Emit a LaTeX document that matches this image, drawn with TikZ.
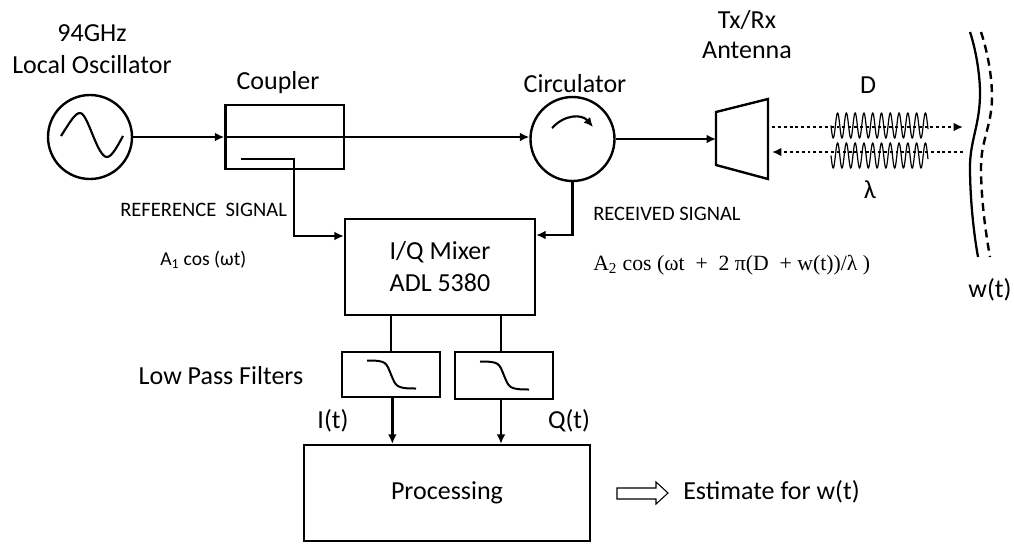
\documentclass[tikz,border=0pt]{standalone}
\usepackage{fontspec}
\setmainfont{Carlito}
\newfontfamily\formulafont{Liberation Serif}
\usepackage{tikz}
\usetikzlibrary{positioning}
\usetikzlibrary{arrows.meta}
\begin{document}
\begin{tikzpicture}[x=.75pt, y=-.75pt, >={Latex[length=7pt,width=6.5pt]},
    every node/.style = {inner sep=0pt, font=\fontsize{19.5}{20}\selectfont},
    blockbox/.style = {draw, rectangle, line width=1.8pt},
    roundbox/.style = {draw, circle, line width=1.8pt, minimum size=63pt},
    link/.style = {line width=1.8pt},
    small/.style = {font=\fontsize{15.4}{16}\selectfont, anchor=west},
    formula/.style = {font=\fontsize{16.3}{16}\formulafont\selectfont, anchor=west},
    radio/.style = {dash pattern=on 2.2pt off 2.2pt, line width=1.6pt},
    wave/.style = {line width=.9pt}
    ]
    \useasboundingbox (0,0) rectangle (1014,544);
    % blocks
    \node[roundbox] (osc) at (90,137) {};
    \node[blockbox, minimum width=89pt, minimum height=48pt] (coupler) at (284.8,137) {};
    \node[roundbox] (circ) at (572.5,139) {};
    \node[blockbox, minimum width=142.5pt, minimum height=72pt, align=center] (mixer) at (440,267) {I/Q Mixer\\[4pt]ADL 5380};
    \node[blockbox, minimum width=73.5pt, minimum height=33.5pt] (lpfi) at (391,374.5) {};
    \node[blockbox, minimum width=73.5pt, minimum height=35pt] (lpfq) at (504,375.5) {};
    \node[blockbox, minimum width=214.5pt, minimum height=72pt] (proc) at (447,493) {Processing};
    \draw[line width=1.8pt] (716,112) -- (768,99) -- (768,179) -- (716,165) -- cycle;
    \coordinate (ant) at (716,139);
    \coordinate (tap) at (241,159);
    \coordinate (txa) at (772,127);
    \coordinate (txb) at (963,127);
    \coordinate (rxa) at (963,152);
    \coordinate (rxb) at (772,152);
    % connectors
    \draw[->, link] (osc) -- (coupler.west);
    \draw[->, link] (coupler.west) -- (coupler.west -| circ.west);
    \draw[->, link] (circ) -- (ant);
    \draw[->, link] (tap) -| (294,236) -- (mixer.west |- 0,236);
    \draw[->, link] (circ) |- (mixer.east |- 0,235);
    \draw[link] (lpfi.north |- mixer.south) -- (lpfi.north);
    \draw[link] ([xshift=-2.25pt]lpfq.north |- mixer.south) -- ([xshift=-2.25pt]lpfq.north);
    \draw[->, link] ([xshift=1pt]lpfi.south) -- ([xshift=1pt]lpfi.south |- proc.north);
    \draw[->, link] ([xshift=-2.25pt]lpfq.south) -- ([xshift=-2.25pt]lpfq.south |- proc.north);
    \draw[->, radio] (txa) -- (txb);
    \draw[->, radio] (rxa) -- (rxb);
    % symbols
    \draw[line width=1.6pt] (61,136) .. controls (70,122) and (75,113) .. (80,113) .. controls (88,113) and (97,157) .. (107,157) .. controls (112,157) and (118,145) .. (123,136);
    \draw[->, line width=1.6pt] (552,128) .. controls (565,114) and (582,114) .. (593,127);
    \foreach \n in {lpfi, lpfq} {
      \draw[line width=1.5pt] ([shift={(-24,-14)}]\n.center) .. controls +(20,0) and +(-5,-12) .. (\n.center) .. controls +(5,12) and +(-20,0) .. ([shift={(25,14)}]\n.center);
    }
    \draw[wave] plot[domain=831:928, samples=330] (\x, {125.5+12.5*sin((\x-831)*41)});
    \draw[wave] plot[domain=831:928, samples=330] (\x, {155.5+12.5*sin((\x-831)*41)});
    \draw[line width=1.7pt] (970,32) .. controls (976,50) and (980,75) .. (980,93) .. controls (980,125) and (970,140) .. (970,167) .. controls (970,200) and (974,235) .. (978,257);
    \draw[line width=1.8pt, dash pattern=on 6pt off 4pt] (981,32) .. controls (987,50) and (992,75) .. (992,97) .. controls (992,125) and (981,140) .. (981,167) .. controls (981,200) and (986,235) .. (990,257);
    \draw[line width=.8pt] (617,488) -- (656,488) -- (656,482) -- (668,493) -- (656,504) -- (656,499) -- (617,499) -- cycle;
    % labels
    \node (osclabel) [align=center] at (92,49) {94GHz\\[4pt]Local Oscillator};
    \node (couplerlabel) at (278,83) {Coupler};
    \node (circlabel) at (575,84) {Circulator};
    \node (antlabel) [align=center] at (747,35) {Tx/Rx\\[2.5pt]Antenna};
    \node (dlabel) at (868,85) {D};
    \node (lambdalabel) at (870,190) {λ};
    \node (wlabel) at (990,290) {w(t)};
    \node (reflabel) [small] at (120,210) {REFERENCE\ \ SIGNAL};
    \node (rxlabel) [small] at (593,214) {RECEIVED SIGNAL};
    \node (a1label) [small, font=\fontsize{14.7}{16}\selectfont] at (160,260) {A\textsubscript{1} cos (ωt)};
    \node (a2label) [formula] at (593,265) {A\textsubscript{2} cos (ωt\ \ +\ \ 2 π(D\ \ + w(t))/λ )};
    \node (lpflabel) at (221,376) {Low Pass Filters};
    \node (ilabel) at (333,421) {I(t)};
    \node (qlabel) at (569,421) {Q(t)};
    \node (estlabel) [anchor=west] at (683,492) {Estimate for w(t)};
\end{tikzpicture}
\end{document}
